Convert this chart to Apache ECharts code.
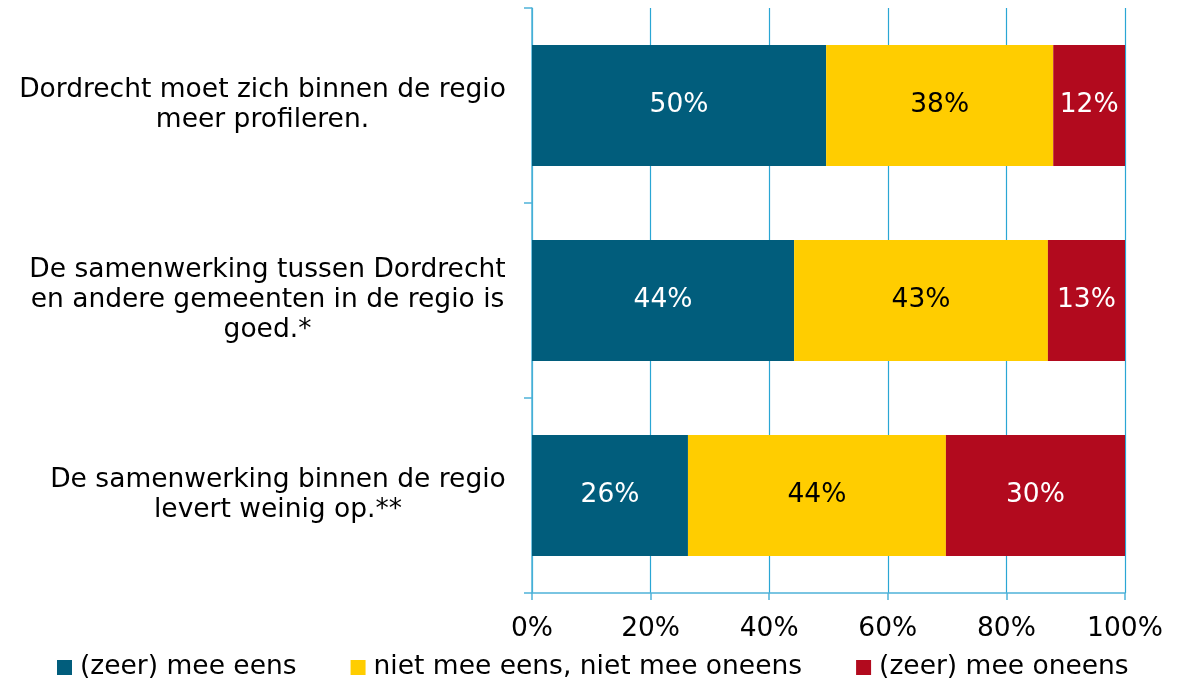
<!DOCTYPE html>
<html>
<head>
<meta charset="utf-8">
<script src="https://cdn.jsdelivr.net/npm/echarts@6/dist/echarts.min.js"></script>
<style>
  html, body { margin: 0; padding: 0; background: #fff; }
  #chart { width: 1183px; height: 681px; }
</style>
</head>
<body>
<div id="chart"></div>
<script>
const statements = [
  'Dordrecht moet zich binnen de regio\nmeer profileren.',
  'De samenwerking tussen Dordrecht\nen andere gemeenten in de regio is\ngoed.*',
  'De samenwerking binnen de regio\nlevert weinig op.**'
];
const seriesNames = ['(zeer) mee eens', 'niet mee eens, niet mee oneens', '(zeer) mee oneens'];
const eens = [49.6, 44.2, 26.3];
const neutraal = [38.3, 42.8, 43.5];
const oneens = [12.1, 13.0, 30.2];
const xTicks = [0, 20, 40, 60, 80, 100];

const colors = ['#015d7c', '#ffcd00', '#b20a1e'];
const labelColors = ['#ffffff', '#000000', '#ffffff'];
const font = 'DejaVu Sans';
const fontSize = 26.5;

const chartDom = document.getElementById('chart');
const myChart = echarts.init(chartDom);

// category labels: lines centred inside a right-aligned block
const ctx = document.createElement('canvas').getContext('2d');
ctx.font = fontSize + 'px ' + font;
const rich = {};
statements.forEach((s, i) => {
  const w = Math.max(...s.split('\n').map((l) => ctx.measureText(l).width));
  rich['c' + i] = { width: Math.ceil(w), align: 'center', fontFamily: font, fontSize: fontSize, lineHeight: 30, color: '#000' };
});

function makeSeries(name, data, i) {
  return {
    name: name,
    type: 'bar',
    stack: 'total',
    data: data,
    barCategoryGap: '38%',
    itemStyle: { color: colors[i] },
    label: {
      show: true,
      position: 'inside',
      color: labelColors[i],
      fontFamily: font,
      fontSize: fontSize,
      formatter: (p) => Math.round(p.value) + '%'
    }
  };
}

let option = {
  animation: false,
  grid: { left: 532, right: 58, top: 8, bottom: 88 },
  xAxis: {
    type: 'value',
    min: 0,
    max: 100,
    interval: 20,
    axisLine: { show: true, lineStyle: { color: '#4fb3d9', width: 1.5 } },
    axisTick: { show: true, length: 7, lineStyle: { color: '#4fb3d9', width: 1.5 } },
    splitLine: { show: true, lineStyle: { color: '#2aa6d4', width: 1.2 } },
    axisLabel: {
      formatter: (v) => (xTicks.includes(v) ? v + '%' : ''),
      color: '#000',
      fontFamily: font,
      fontSize: fontSize,
      margin: 23
    }
  },
  yAxis: {
    type: 'category',
    inverse: true,
    data: statements,
    axisLine: { show: true, lineStyle: { color: '#4fb3d9', width: 1.5 } },
    axisTick: { show: true, length: 8, lineStyle: { color: '#4fb3d9', width: 1.5 } },
    axisLabel: {
      align: 'right',
      margin: 26,
      lineHeight: 30,
      formatter: (value, index) =>
        value.split('\n').map((l) => '{c' + index + '|' + l + '}').join('\n'),
      rich: rich
    }
  },
  legend: {
    left: 52,
    top: 649,
    itemWidth: 15,
    itemHeight: 15,
    itemGap: 54,
    icon: 'rect',
    textStyle: { color: '#000', fontFamily: font, fontSize: fontSize, padding: [0, 0, 0, 3] },
    data: seriesNames
  },
  series: [
    makeSeries(seriesNames[0], eens, 0),
    makeSeries(seriesNames[1], neutraal, 1),
    makeSeries(seriesNames[2], oneens, 2)
  ]
};

option && myChart.setOption(option);
</script>
</body>
</html>
